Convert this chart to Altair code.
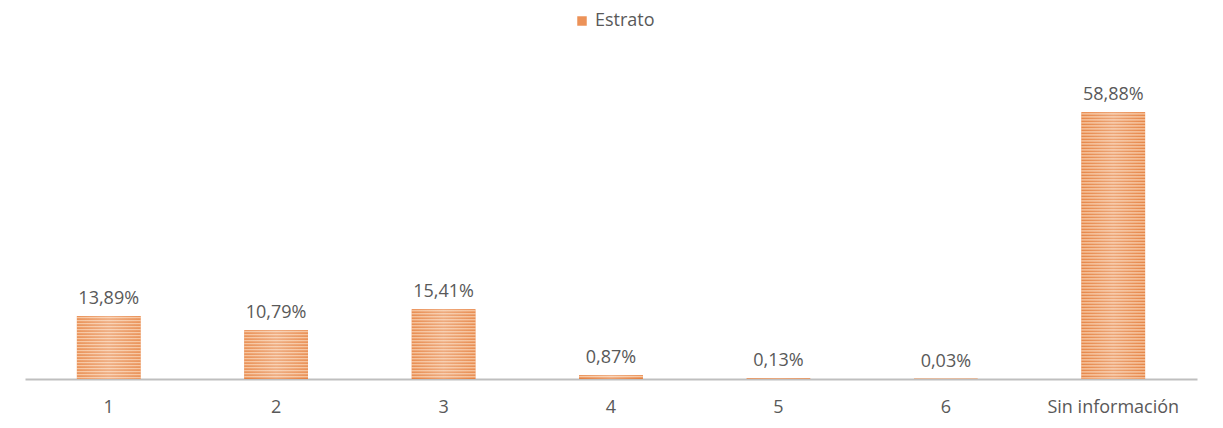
import altair as alt
import pandas as pd

categorias = ["1", "2", "3", "4", "5", "6", "Sin información"]
valores = [13.89, 10.79, 15.41, 0.87, 0.13, 0.03, 58.88]
serie = "Estrato"

df = pd.DataFrame({"cat": categorias, "valor": valores, "serie": [serie] * len(categorias)})

FONT = "Open Sans"
TXT = "#595959"
DARK = "#E5803F"
LIGHT = "#F8CBA8"
H = 317
YMAX = 70
PERIOD = 3.0


def stripes(h):
    h = max(h, 1.0)
    stops = []
    k = 0
    while True:
        a = k * PERIOD / h
        if a >= 1:
            break
        b = (k + 0.5) * PERIOD / h
        stops.append({"offset": a, "color": DARK})
        if b < 1:
            stops.append({"offset": b, "color": LIGHT})
        k += 1
    stops.append({"offset": 1, "color": DARK})
    return {"gradient": "linear", "x1": 0, "y1": 0, "x2": 0, "y2": 1, "stops": stops}


glow = {
    "gradient": "linear", "x1": 0, "y1": 0, "x2": 1, "y2": 0,
    "stops": [
        {"offset": 0, "color": "rgba(255,255,255,0)"},
        {"offset": 0.5, "color": "rgba(255,255,255,0.25)"},
        {"offset": 1, "color": "rgba(255,255,255,0)"},
    ],
}

base = alt.Chart(df).encode(
    x=alt.X(
        "cat:N",
        sort=categorias,
        scale=alt.Scale(paddingInner=0.62, paddingOuter=0.31),
        axis=alt.Axis(
            title=None, labelAngle=0, ticks=False, grid=False,
            domainColor="#BFBFBF", domainWidth=2,
            labelFont=FONT, labelFontSize=18, labelColor=TXT, labelPadding=19,
        ),
    ),
    y=alt.Y("valor:Q", scale=alt.Scale(domain=[0, YMAX]), axis=None),
)

legend_bars = base.mark_bar().encode(
    color=alt.Color(
        "serie:N",
        scale=alt.Scale(range=["#EC9258"]),
        legend=alt.Legend(
            title=None, orient="none", legendX=546, legendY=-52,
            symbolType="square", symbolSize=90, symbolStrokeWidth=0,
            labelFont=FONT, labelFontSize=18, labelColor=TXT, labelLimit=0,
            padding=2,
        ),
    )
)

layers = [legend_bars]
for c, v in zip(categorias, valores):
    h = v * H / YMAX
    layers.append(
        base.mark_bar(color=stripes(h)).transform_filter(alt.datum.cat == c)
    )
layers.append(base.mark_bar(color=glow))

labels = base.transform_calculate(
    label="replace(format(datum.valor, '.2f'), '.', ',') + '%'"
).mark_text(baseline="bottom", dy=-8, font=FONT, fontSize=18, color=TXT).encode(
    text="label:N"
)
layers.append(labels)

chart = alt.layer(*layers).properties(
    width=1172, height=H,
    padding={"left": 17, "top": 54, "right": 18, "bottom": 45},
    autosize=alt.AutoSizeParams(type="none"),
).configure_view(stroke=None)

chart.save("out.html", embed_options={"renderer": "svg", "actions": False})
